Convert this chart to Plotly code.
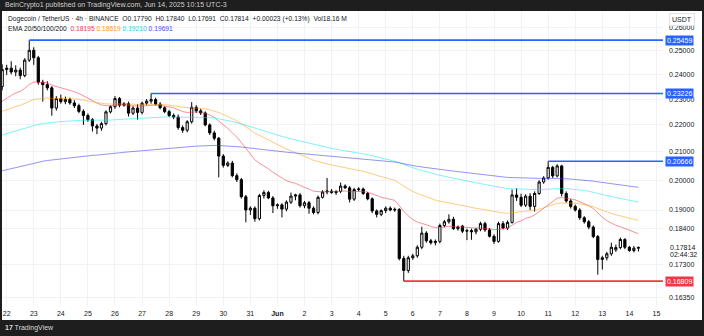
import math
import pandas as pd
import plotly.graph_objects as go

# DOGE/USDT 4h candles, first bar 2025-05-21 20:00
opens = [0.2350, 0.2420, 0.2426, 0.2410, 0.2418, 0.2395, 0.2460, 0.2502, 0.2470, 0.2368,
         0.2358, 0.2345, 0.2265, 0.2302, 0.2290, 0.2299, 0.2285, 0.2274, 0.2252, 0.2236,
         0.2220, 0.2196, 0.2188, 0.2205, 0.2250, 0.2270, 0.2302, 0.2276, 0.2282, 0.2245,
         0.2265, 0.2248, 0.2284, 0.2292, 0.2298, 0.2280, 0.2266, 0.2251, 0.2236, 0.2230,
         0.2190, 0.2180, 0.2212, 0.2268, 0.2254, 0.2246, 0.2200, 0.2170, 0.2150, 0.2085,
         0.2052, 0.2060, 0.2016, 0.2002, 0.1944, 0.1900, 0.1906, 0.1872, 0.1948, 0.1958,
         0.1940, 0.1914, 0.1917, 0.1903, 0.1926, 0.1946, 0.1950, 0.1914, 0.1924, 0.1906,
         0.1892, 0.1942, 0.1960, 0.1963, 0.1958, 0.1962, 0.1980, 0.1974, 0.1936, 0.1968,
         0.1970, 0.1955, 0.1937, 0.1897, 0.1886, 0.1898, 0.1906, 0.1900, 0.1902, 0.1748,
         0.1712, 0.1750, 0.1756, 0.1782, 0.1826, 0.1802, 0.1796, 0.1800, 0.1850, 0.1862,
         0.1870, 0.1840, 0.1848, 0.1832, 0.1834, 0.1830, 0.1838, 0.1856, 0.1836, 0.1816,
         0.1800, 0.1856, 0.1842, 0.1860, 0.1950, 0.1942, 0.1916, 0.1946, 0.1912, 0.1955,
         0.1994, 0.2008, 0.2045, 0.2015, 0.2050, 0.1955, 0.1930, 0.1912, 0.1900, 0.1875,
         0.1862, 0.1845, 0.1815, 0.1745, 0.1750, 0.1762, 0.1774, 0.1781, 0.1806, 0.1782,
         0.1772, 0.17790]
highs = [0.2442, 0.2440, 0.2455, 0.2438, 0.2428, 0.2468, 0.25459, 0.2515, 0.2478, 0.2378,
         0.2372, 0.2352, 0.2312, 0.2318, 0.2310, 0.2306, 0.2296, 0.2282, 0.2260, 0.2244,
         0.2226, 0.2204, 0.2212, 0.2256, 0.2275, 0.2312, 0.2308, 0.2288, 0.2290, 0.2272,
         0.2280, 0.2290, 0.2300, 0.23226, 0.2306, 0.2288, 0.2272, 0.2258, 0.2244, 0.2240,
         0.2198, 0.2218, 0.2288, 0.2276, 0.2262, 0.2252, 0.2206, 0.2178, 0.2155, 0.2092,
         0.2066, 0.2068, 0.2024, 0.2008, 0.1950, 0.1912, 0.1912, 0.1954, 0.1966, 0.1964,
         0.1946, 0.1922, 0.1922, 0.1932, 0.1958, 0.1954, 0.1956, 0.1930, 0.1930, 0.1912,
         0.1948, 0.1966, 0.2008, 0.1970, 0.1966, 0.1992, 0.1986, 0.1980, 0.1974, 0.1976,
         0.1975, 0.1960, 0.1942, 0.1902, 0.1902, 0.1912, 0.1912, 0.1908, 0.1906, 0.1756,
         0.1756, 0.1762, 0.1788, 0.1846, 0.1832, 0.1808, 0.1806, 0.1856, 0.1868, 0.1886,
         0.1878, 0.1850, 0.1852, 0.1840, 0.1840, 0.1842, 0.1862, 0.1862, 0.1842, 0.1822,
         0.1862, 0.1864, 0.1866, 0.1968, 0.1972, 0.1954, 0.1952, 0.1956, 0.1962, 0.2000,
         0.2014, 0.20666, 0.2050, 0.2056, 0.2054, 0.1962, 0.1936, 0.1918, 0.1906, 0.1880,
         0.1868, 0.1850, 0.1820, 0.1756, 0.1768, 0.1796, 0.1790, 0.1812, 0.1810, 0.1786,
         0.1786, 0.17840]
lows = [0.2335, 0.2398, 0.2400, 0.2392, 0.2380, 0.2388, 0.2452, 0.2440, 0.2358, 0.2290,
        0.2335, 0.2235, 0.2255, 0.2282, 0.2280, 0.2278, 0.2265, 0.2245, 0.2200, 0.2212,
        0.2175, 0.2165, 0.2178, 0.2198, 0.2244, 0.2262, 0.2268, 0.2270, 0.2232, 0.2238,
        0.2220, 0.2240, 0.2276, 0.2282, 0.2275, 0.2260, 0.2245, 0.2230, 0.2222, 0.2182,
        0.2170, 0.2172, 0.2205, 0.2246, 0.2238, 0.2195, 0.2162, 0.2142, 0.2010, 0.2044,
        0.2046, 0.2010, 0.1994, 0.1938, 0.1860, 0.1884, 0.1862, 0.1866, 0.1938, 0.1936,
        0.1890, 0.1904, 0.1876, 0.1896, 0.1920, 0.1932, 0.1908, 0.1906, 0.1888, 0.1886,
        0.1886, 0.1938, 0.1952, 0.1954, 0.1950, 0.1956, 0.1970, 0.1925, 0.1930, 0.1962,
        0.1950, 0.1932, 0.1890, 0.1876, 0.1880, 0.1890, 0.1896, 0.1894, 0.1742, 0.16809,
        0.1705, 0.1744, 0.1750, 0.1776, 0.1796, 0.1790, 0.1788, 0.1794, 0.1844, 0.1856,
        0.1836, 0.1834, 0.1826, 0.1804, 0.1805, 0.1822, 0.1832, 0.1830, 0.1812, 0.1792,
        0.1796, 0.1838, 0.1836, 0.1856, 0.1930, 0.1910, 0.1910, 0.1900, 0.1895, 0.1950,
        0.1988, 0.2002, 0.2008, 0.2010, 0.1945, 0.1924, 0.1905, 0.1895, 0.1868, 0.1856,
        0.1838, 0.1810, 0.1700, 0.1715, 0.1742, 0.1756, 0.1768, 0.1776, 0.1776, 0.1768,
        0.1766, 0.17691]
closes = [0.2420, 0.2426, 0.2410, 0.2418, 0.2395, 0.2460, 0.2502, 0.2470, 0.2368, 0.2358,
          0.2345, 0.2265, 0.2302, 0.2290, 0.2299, 0.2285, 0.2274, 0.2252, 0.2236, 0.2220,
          0.2196, 0.2188, 0.2205, 0.2250, 0.2270, 0.2302, 0.2276, 0.2282, 0.2245, 0.2265,
          0.2248, 0.2284, 0.2292, 0.2298, 0.2280, 0.2266, 0.2251, 0.2236, 0.2230, 0.2190,
          0.2180, 0.2212, 0.2268, 0.2254, 0.2246, 0.2200, 0.2170, 0.2150, 0.2085, 0.2052,
          0.2060, 0.2016, 0.2002, 0.1944, 0.1900, 0.1906, 0.1872, 0.1948, 0.1958, 0.1940,
          0.1914, 0.1917, 0.1903, 0.1926, 0.1946, 0.1950, 0.1914, 0.1924, 0.1906, 0.1892,
          0.1942, 0.1960, 0.1963, 0.1958, 0.1962, 0.1980, 0.1974, 0.1936, 0.1968, 0.1970,
          0.1955, 0.1937, 0.1897, 0.1886, 0.1898, 0.1906, 0.1900, 0.1902, 0.1748, 0.1712,
          0.1750, 0.1756, 0.1782, 0.1826, 0.1802, 0.1796, 0.1800, 0.1850, 0.1862, 0.1870,
          0.1840, 0.1845, 0.1832, 0.1834, 0.1830, 0.1838, 0.1856, 0.1836, 0.1816, 0.1800,
          0.1856, 0.1842, 0.1860, 0.1950, 0.1942, 0.1916, 0.1946, 0.1912, 0.1955, 0.1994,
          0.2008, 0.2045, 0.2015, 0.2050, 0.1955, 0.1930, 0.1912, 0.1900, 0.1875, 0.1862,
          0.1845, 0.1815, 0.1745, 0.1750, 0.1762, 0.1782, 0.1781, 0.1806, 0.1782, 0.1772,
          0.1779, 0.17814]
times = pd.date_range("2025-05-21 20:00", periods=len(closes), freq="4h")

# EMA ribbon: lengths, values carried in from before the first bar, colours
ema_lengths = [20, 50, 100, 200]
ema_seeds = [0.2278, 0.2245, 0.2157, 0.2029]
ema_line_colors = ["rgba(242,54,69,0.55)", "rgba(255,152,0,0.5)",
                   "rgba(0,230,240,0.5)", "rgba(60,60,235,0.55)"]
ema_text_colors = ["#f23645", "#ff9800", "#22d3e0", "#4c4cf0"]
ema_last = ["0.18195", "0.18619", "0.19210", "0.19691"]

# horizontal support / resistance levels and the bar each one starts from
level_values = [0.25459, 0.23226, 0.20666, 0.16809]
level_start = [6, 33, 121, 89]
level_colors = ["#2962ff", "#2962ff", "#2962ff", "#f23645"]

price_ticks = [0.26, 0.25, 0.24, 0.23, 0.22, 0.21, 0.20, 0.19, 0.184, 0.173, 0.1635]
day_ticks = pd.date_range("2025-05-22", "2025-06-15", freq="D")
day_labels = ["22", "23", "24", "25", "26", "27", "28", "29", "30", "31", "<b>Jun</b>",
              "2", "3", "4", "5", "6", "7", "8", "9", "10", "11", "12", "13", "14", "15"]

x_start = pd.Timestamp("2025-05-21 19:50")
x_end = pd.Timestamp("2025-06-15 05:48")
y_low, y_high = 0.16105, 0.2677

FONT = "Liberation Sans, Arial, sans-serif"
INK = "#131722"
FRAME = "#1e1e1e"

W, H = 704, 336
L, R, T, B = 2, 41, 11, 30
PW, PH = W - L - R, H - T - B


def px(x):
    return (x - L) / PW


def py(y):
    return (H - B - y) / PH


def ema(values, length, seed):
    alpha = 2.0 / (length + 1)
    cur = seed
    out = []
    for v in values:
        cur += alpha * (v - cur)
        out.append(cur)
    return out


fig = go.Figure()

for length, seed, col in zip(ema_lengths, ema_seeds, ema_line_colors):
    fig.add_trace(go.Scatter(x=times, y=ema(closes, length, seed), mode="lines",
                             line=dict(color=col, width=1), hoverinfo="skip"))

fig.add_trace(go.Candlestick(
    x=times, open=opens, high=highs, low=lows, close=closes,
    increasing=dict(line=dict(color="#000000", width=1), fillcolor="#ffffff"),
    decreasing=dict(line=dict(color="#000000", width=1), fillcolor="#000000"),
    whiskerwidth=0,
))

for val, start, col in zip(level_values, level_start, level_colors):
    fig.add_trace(go.Scatter(x=[times[start], x_end], y=[val, val], mode="lines",
                             line=dict(color=col, width=1.6), hoverinfo="skip"))

annotations = []
# price tags for the levels on the scale
for val, col in zip(level_values, level_colors):
    annotations.append(dict(
        x=px(665), xref="paper", xanchor="left", y=math.log10(val), yref="y",
        yanchor="middle", text=f"{val:.5f}", showarrow=False, bgcolor=col,
        borderpad=1, font=dict(family=FONT, size=7, color="#ffffff")))

# last price and bar countdown
annotations.append(dict(x=px(668), xref="paper", xanchor="left", y=math.log10(closes[-1]),
                        yref="y", yanchor="middle", text=f"{closes[-1]:.5f}",
                        showarrow=False, font=dict(family=FONT, size=7, color=INK)))
annotations.append(dict(x=px(668), xref="paper", xanchor="left", y=math.log10(closes[-1]),
                        yref="y", yanchor="middle", yshift=-7, text="02:44:32",
                        showarrow=False, font=dict(family=FONT, size=7, color=INK)))

# currency badge
annotations.append(dict(x=px(682), xref="paper", xanchor="center", y=py(19.5), yref="paper",
                        yanchor="middle", text="USDT", showarrow=False, bgcolor="#ffffff",
                        bordercolor="#e0e3eb", borderwidth=1, borderpad=2,
                        font=dict(family=FONT, size=7, color=INK)))

# legend lines
sp = "\u00a0"
ohlc = (f"Dogecoin / TetherUS · 4h · BINANCE{sp*2}O{opens[-1]:.5f}{sp*2}H{highs[-1]:.5f}"
        f"{sp*2}L{lows[-1]:.5f}{sp*2}C{closes[-1]:.5f}{sp*2}+0.00023 (+0.13%){sp*2}Vol18.16{sp}M")
annotations.append(dict(x=px(6), xref="paper", xanchor="left", y=py(19), yref="paper",
                        yanchor="middle", text=ohlc, showarrow=False,
                        font=dict(family=FONT, size=6.7, color=INK)))
ema_txt = "EMA 20/50/100/200" + sp * 2 + sp.join(
    f"<span style='color:{c}'>{v}</span>" for c, v in zip(ema_text_colors, ema_last))
annotations.append(dict(x=px(6), xref="paper", xanchor="left", y=py(28.5), yref="paper",
                        yanchor="middle", text=ema_txt, showarrow=False,
                        font=dict(family=FONT, size=6.7, color=INK)))

# frame captions
annotations.append(dict(x=px(3), xref="paper", xanchor="left", y=py(5.5), yref="paper",
                        yanchor="middle",
                        text="BeinCrypto1 published on TradingView.com, Jun 14, 2025 10:15 UTC-3",
                        showarrow=False, font=dict(family=FONT, size=7, color="#cfcfcf")))
annotations.append(dict(x=px(3), xref="paper", xanchor="left", y=py(328), yref="paper",
                        yanchor="middle", text="<b>17</b> TradingView", showarrow=False,
                        font=dict(family=FONT, size=7, color="#d8d8d8")))

shapes = [dict(type="rect", xref="paper", yref="paper", x0=px(2), x1=px(702),
               y0=py(320), y1=py(11), fillcolor="#ffffff", line=dict(width=0), layer="below")]

fig.update_layout(
    width=W, height=H,
    margin=dict(l=L, r=R, t=T, b=B, pad=0),
    paper_bgcolor=FRAME, plot_bgcolor="#ffffff",
    showlegend=False, hovermode=False,
    annotations=annotations, shapes=shapes,
    font=dict(family=FONT, size=7, color=INK),
)
fig.update_xaxes(
    type="date", range=[x_start, x_end], rangeslider=dict(visible=False),
    tickmode="array", tickvals=day_ticks, ticktext=day_labels,
    showgrid=True, gridcolor="#f0f2f6", gridwidth=1, zeroline=False,
    ticks="", showline=False, tickfont=dict(family=FONT, size=7, color=INK),
    ticklabelstandoff=2,
)
fig.update_yaxes(
    type="log", side="right", range=[math.log10(y_low), math.log10(y_high)],
    tickmode="array", tickvals=price_ticks, ticktext=[f"{v:.5f}" for v in price_ticks],
    showgrid=True, gridcolor="#f0f2f6", gridwidth=1, zeroline=False,
    ticks="", showline=False, tickfont=dict(family=FONT, size=7, color=INK),
    ticklabelstandoff=5,
)

fig.write_html("out.html")
